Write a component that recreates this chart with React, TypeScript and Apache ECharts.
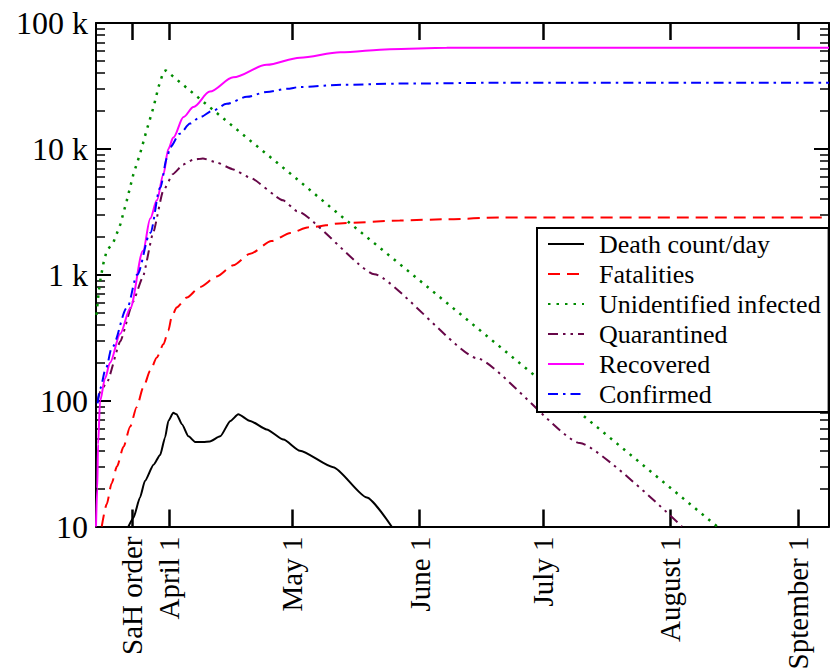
import React, { useEffect, useRef } from "react";
import * as echarts from "echarts";

// x values are days relative to April 1 (day 0)
const tickDays = [-9, 0, 30, 61, 91, 122, 153];
const tickLabels = ["SaH order", "April 1", "May 1", "June 1", "July 1", "August 1", "Sptember 1"];
const xMin = -17.7;
const xMax = 160.6;

const yTickValues = [10, 100, 1000, 10000, 100000];
const yTickLabels = ["10", "100", "1 k", "10 k", "100 k"];
const minorMultipliers = [2, 3, 4, 5, 6, 7, 8, 9];
const minorDecades = [10, 100, 1000, 10000];

const seriesNames = [
  "Death count/day",
  "Fatalities",
  "Unidentified infected",
  "Quarantined",
  "Recovered",
  "Confirmed",
];

const deathPerDay: [number, number][] = [
  [-9.8, 10], [-8.6, 11.7], [-7, 17], [-5.8, 23], [-3.7, 31], [-2.1, 37], [-0.9, 51],
  [-0.1, 69], [1.1, 80], [1.9, 78], [3.2, 65], [4.8, 52], [6.4, 47], [8.4, 47], [10, 47.4],
  [12.5, 52], [15, 69], [16.9, 78], [19.8, 69], [23.8, 59], [27.9, 49], [31.9, 40],
  [40, 29.6], [48.2, 17], [54.2, 10],
];

const fatalities: [number, number][] = [
  [-16.3, 10], [-15.1, 15], [-13.9, 22], [-12.6, 30], [-11, 43], [-9.4, 62], [-7.8, 89],
  [-6.2, 127], [-4.5, 173], [-2.9, 220], [-1.3, 280], [-0.1, 360], [0.7, 460], [1.9, 550],
  [4.4, 660], [7.6, 800], [11.7, 970], [15.7, 1190], [19.8, 1470], [25, 1850], [29.6, 2150],
  [34, 2380], [42.4, 2570], [56.2, 2700], [67.6, 2760], [80.6, 2850], [160.6, 2850],
];

const unidentified: [number, number][] = [
  [-17.6, 480], [-17.1, 700], [-16.7, 890], [-15.9, 1230], [-15.1, 1550], [-13.5, 1800],
  [-11.8, 2500], [-10.2, 3900], [-8.6, 6300], [-7, 9100], [-5.4, 14000], [-3.7, 21500],
  [-2.5, 31000], [-1.3, 41000], [-0.7, 42000], [10, 21400], [20, 11500], [30, 6200],
  [40, 3300], [60, 960], [80, 277], [100, 80], [120, 23], [133.4, 10],
];

const quarantined: [number, number][] = [
  [-17.3, 100], [-16.7, 118], [-15, 140], [-11.8, 295], [-8.7, 610], [-6.3, 960],
  [-3.8, 2150], [-1.4, 4600], [1, 6300], [3.5, 7500], [5.9, 8200], [8.3, 8400],
  [11.7, 7800], [15.5, 6900], [19.8, 5900], [27.8, 3900], [31.2, 3200], [50, 1010],
  [75, 217], [100, 46], [124.8, 10],
];

const recovered: [number, number][] = [
  [-17.7, 10], [-17.4, 20], [-17.2, 45], [-16.7, 100], [-15.5, 150], [-14.3, 200],
  [-11.8, 340], [-9.4, 540], [-6.25, 1550], [-4.5, 2800], [-2.9, 3900], [-1.3, 6300],
  [-0.1, 10000], [1.1, 12300], [3.6, 17900], [6, 21500], [10, 28500], [15.7, 37000],
  [23.8, 46500], [31.9, 53000], [41.7, 58500], [53.8, 62000], [67.6, 63500], [100, 63700],
  [160.6, 63700],
];

const confirmed: [number, number][] = [
  [-17.3, 95], [-16.7, 125], [-15.3, 180], [-13.8, 265], [-10.1, 550], [-7.7, 1000],
  [-4.5, 2150], [-2.1, 4900], [-0.4, 8500], [0.3, 10300], [2.7, 13200], [5.2, 15900],
  [7.6, 17900], [10.8, 20200], [14.1, 22800], [19, 25900], [23.8, 28300], [28.7, 30000],
  [31.9, 31000], [42, 32300], [56.2, 33000], [80, 33500], [160.6, 33500],
];

const FONT = "Liberation Serif";

export default function App() {
  const ref = useRef<HTMLDivElement>(null);

  useEffect(() => {
    if (!ref.current) return;
    const chart = echarts.init(ref.current, null, { renderer: "svg" });

    const minorLog: number[] = [];
    minorDecades.forEach((d) => minorMultipliers.forEach((m) => minorLog.push(Math.log10(d * m))));

    const lineDefs = [
      { data: deathPerDay, color: "#000000", type: "solid", width: 2, smooth: 0.2 },
      { data: fatalities, color: "#ff0000", type: [12, 7], width: 2, smooth: 0.25 },
      { data: unidentified, color: "#008b00", type: [2.5, 6], width: 2.5, smooth: false },
      { data: quarantined, color: "#670748", type: [10, 5, 2.5, 5, 2.5, 5], width: 2, smooth: 0.15 },
      { data: recovered, color: "#ff00ff", type: "solid", width: 2, smooth: 0.3 },
      { data: confirmed, color: "#0000ff", type: [10, 5, 2.5, 5], width: 2, smooth: 0.3 },
    ];

    const majorYAxis = (position: "left" | "right", labels: boolean) => ({
      type: "log",
      logBase: 10,
      min: 10,
      max: 100000,
      position,
      axisLine: { show: true, onZero: false, lineStyle: { color: "#000", width: 2 } },
      axisTick: { show: true, inside: true, length: 15, lineStyle: { color: "#000", width: 2 } },
      splitLine: { show: false },
      axisLabel: {
        show: labels,
        margin: 8,
        color: "#000",
        fontFamily: FONT,
        fontSize: 32,
        formatter: (v: number) => {
          const i = yTickValues.findIndex((t) => Math.abs(t - v) < 1e-6 * t);
          return i >= 0 ? yTickLabels[i] : "";
        },
      },
    });

    const minorYAxis = (position: "left" | "right") => ({
      type: "value",
      min: 1,
      max: 5,
      position,
      axisLine: { show: false, onZero: false },
      axisTick: {
        show: true,
        inside: true,
        length: 9,
        customValues: minorLog,
        lineStyle: { color: "#000", width: 1.5 },
      },
      axisLabel: { show: false },
      splitLine: { show: false },
    });

    const xAxisDef = (position: "bottom" | "top", labels: boolean) => ({
      type: "value",
      min: xMin,
      max: xMax,
      position,
      axisLine: { show: true, onZero: false, lineStyle: { color: "#000", width: 2 } },
      axisTick: {
        show: true,
        inside: true,
        length: 17,
        customValues: tickDays,
        lineStyle: { color: "#000", width: 2.5 },
      },
      splitLine: { show: false },
      axisLabel: {
        show: labels,
        customValues: tickDays,
        rotate: 90,
        margin: 10,
        color: "#000",
        fontFamily: FONT,
        fontSize: 29,
        formatter: (v: number) => {
          const i = tickDays.findIndex((t) => Math.abs(t - v) < 1e-6);
          return i >= 0 ? tickLabels[i] : "";
        },
      },
    });

    chart.setOption({
      animation: false,
      backgroundColor: "#ffffff",
      textStyle: { fontFamily: FONT },
      grid: {
        left: 96,
        right: 1,
        top: 23,
        bottom: 145.5,
        containLabel: false,
        outerBoundsMode: "none",
      },
      xAxis: [xAxisDef("bottom", true), xAxisDef("top", false)],
      yAxis: [
        majorYAxis("left", true),
        majorYAxis("right", false),
        minorYAxis("left"),
        minorYAxis("right"),
      ],
      legend: {
        orient: "vertical",
        left: 537,
        top: 228,
        itemWidth: 36,
        itemHeight: 14,
        itemGap: 4,
        padding: [3, 8, 5, 10],
        backgroundColor: "#ffffff",
        borderColor: "#000000",
        borderWidth: 2,
        borderRadius: 0,
        data: seriesNames,
        itemStyle: { opacity: 0, borderWidth: 0 },
        textStyle: {
          color: "#000",
          fontFamily: FONT,
          fontSize: 26,
          lineHeight: 26,
          padding: [0, 0, 0, 10],
        },
      },
      series: lineDefs.map((d, i) => ({
        name: seriesNames[i],
        type: "line",
        xAxisIndex: 0,
        yAxisIndex: 0,
        data: d.data,
        symbol: "none",
        smooth: d.smooth,
        smoothMonotone: "x",
        clip: true,
        color: d.color,
        lineStyle: { color: d.color, width: d.width, type: d.type as any },
      })),
    });

    return () => chart.dispose();
  }, []);

  return (
    <div
      ref={ref}
      style={{ position: "fixed", left: 0, top: 0, width: "830px", height: "672px", background: "#fff" }}
    />
  );
}
